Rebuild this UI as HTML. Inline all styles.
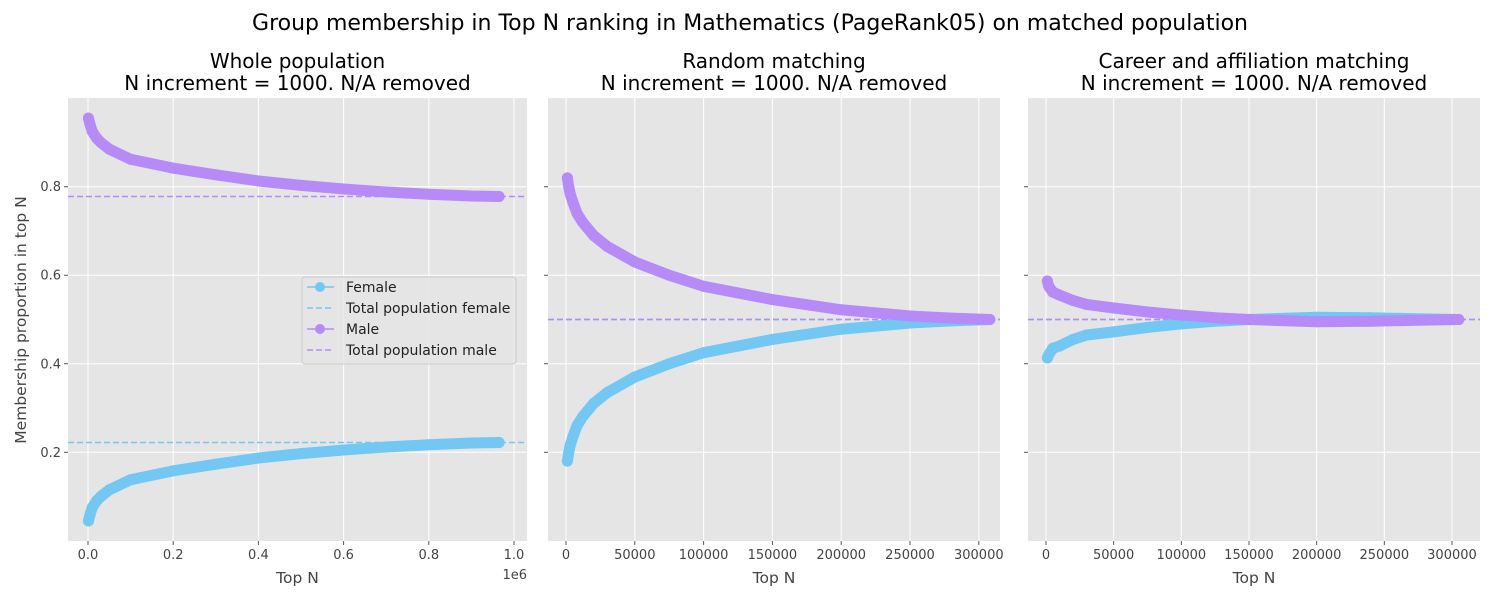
<!DOCTYPE html>
<html><head><meta charset="utf-8"><style>
body{margin:0;background:#fff;font-family:"Liberation Sans","DejaVu Sans",sans-serif}
svg text{font-family:"DejaVu Sans","Liberation Sans",sans-serif}
</style></head><body>
<svg id="chart" width="1500" height="600" xmlns="http://www.w3.org/2000/svg">
<text x="750" y="30" font-size="22" text-anchor="middle" fill="#000">Group membership in Top N ranking in Mathematics (PageRank05) on matched population</text>
<text transform="translate(26,320) rotate(-90)" font-size="15.5" text-anchor="middle" fill="#444">Membership proportion in top N</text>
</svg>
<script>
// Panel 1: whole population
const p1N = [1000,5000,10000,20000,30000,50000,100000,200000,300000,400000,500000,600000,700000,800000,900000,965000];
const p1Female = [0.045,0.06,0.075,0.09,0.1,0.115,0.138,0.158,0.173,0.187,0.197,0.205,0.212,0.217,0.221,0.222];
const p1Male = [0.955,0.94,0.925,0.91,0.9,0.885,0.862,0.842,0.827,0.813,0.803,0.795,0.788,0.783,0.779,0.778];
// Panel 2: random matching
const p2N = [1000,2000,3000,5000,8000,12000,20000,30000,50000,75000,100000,150000,200000,250000,280000,308000];
const p2Female = [0.18,0.2,0.215,0.235,0.26,0.28,0.31,0.335,0.37,0.4,0.425,0.455,0.478,0.492,0.497,0.5];
const p2Male = [0.82,0.8,0.785,0.765,0.74,0.72,0.69,0.665,0.63,0.6,0.575,0.545,0.522,0.508,0.503,0.5];
// Panel 3: career and affiliation matching
const p3N = [1000,2000,5000,10000,20000,30000,50000,75000,100000,130000,150000,200000,240000,270000,305000];
const p3Female = [0.413,0.42,0.435,0.44,0.455,0.465,0.472,0.482,0.49,0.497,0.5,0.505,0.504,0.502,0.5];
const p3Male = [0.587,0.575,0.562,0.555,0.543,0.534,0.526,0.517,0.51,0.503,0.5,0.495,0.496,0.498,0.5];
const totalFemale = [0.222,0.5,0.5];
const totalMale = [0.778,0.5,0.5];
const yTicks = [0.2,0.4,0.6,0.8];
const xTicks1 = [0,0.2e6,0.4e6,0.6e6,0.8e6,1e6];
const xTickLabels1 = ["0.0","0.2","0.4","0.6","0.8","1.0"];
const xTicks23 = [0,50000,100000,150000,200000,250000,300000];
const titles = [["Whole population","N increment = 1000. N/A removed"],["Random matching","N increment = 1000. N/A removed"],["Career and affiliation matching","N increment = 1000. N/A removed"]];

const NS="http://www.w3.org/2000/svg";
const svg=document.getElementById('chart');
const FC="#72c8f2", MC="#b68bf8";
function mk(tag,attrs,parent){const e=document.createElementNS(NS,tag);for(const k in attrs)e.setAttribute(k,attrs[k]);(parent||svg).appendChild(e);return e;}
const plotTop=98,plotBot=541,yMin=-0.0005,yMax=1.0005;
const yS=v=>plotBot-(v-yMin)/(yMax-yMin)*(plotBot-plotTop);
const panels=[
 {l:68,r:527,x0:-46950,x1:1030516,N:p1N,F:p1Female,M:p1Male,ticks:xTicks1,labels:xTickLabels1},
 {l:548,r:1000,x0:-13075,x1:315400,N:p2N,F:p2Female,M:p2Male,ticks:xTicks23,labels:xTicks23.map(String)},
 {l:1028,r:1480,x0:-13300,x1:320700,N:p3N,F:p3Female,M:p3Male,ticks:xTicks23,labels:xTicks23.map(String)}
];
panels.forEach((p,i)=>{
 const xS=v=>p.l+(v-p.x0)/(p.x1-p.x0)*(p.r-p.l);
 const g=mk('g',{});
 
 
 mk('rect',{x:p.l,y:plotTop,width:p.r-p.l,height:plotBot-plotTop,fill:'#e5e5e5'},g);
 yTicks.forEach(t=>{
  mk('line',{x1:p.l,x2:p.r,y1:yS(t),y2:yS(t),stroke:'#fff','stroke-width':1},g);
  mk('line',{x1:p.l-4,x2:p.l,y1:yS(t),y2:yS(t),stroke:'#555'},g);
  if(i===0){const tx=mk('text',{x:p.l-7,y:yS(t)+4.5,'font-size':13,'text-anchor':'end',fill:'#444'},g);tx.textContent=t.toFixed(1);
   
   }
 });
 p.ticks.forEach((t,k)=>{
  mk('line',{x1:xS(t),x2:xS(t),y1:plotTop,y2:plotBot,stroke:'#fff'},g);
  mk('line',{x1:xS(t),x2:xS(t),y1:plotBot,y2:plotBot+4,stroke:'#555'},g);
  const tx=mk('text',{x:xS(t),y:plotBot+18,'font-size':13,'text-anchor':'middle',fill:'#444'},g);tx.textContent=p.labels[k];
  
  
 });
 if(i===0){const e=mk('text',{x:p.r,y:plotBot+38,'font-size':13,'text-anchor':'end',fill:'#444'},g);e.textContent='1e6';}
 const xl=mk('text',{x:(p.l+p.r)/2,y:583,'font-size':15.5,'text-anchor':'middle',fill:'#444'},g);xl.textContent='Top N';
 
 
 titles[i].forEach((s,k)=>{const t=mk('text',{x:(p.l+p.r)/2,y:68+k*22,'font-size':20,'text-anchor':'middle',fill:'#000'},g);t.textContent=s;
  
  });
 const df=mk('line',{x1:p.l,x2:p.r,y1:yS(totalFemale[i]),y2:yS(totalFemale[i]),stroke:FC,'stroke-width':1.5,'stroke-dasharray':'6,3'},g);
 
 
 const dm=mk('line',{x1:p.l,x2:p.r,y1:yS(totalMale[i]),y2:yS(totalMale[i]),stroke:MC,'stroke-width':1.5,'stroke-dasharray':'6,3'},g);
 
 
 [[p.F,FC,'female'],[p.M,MC,'male']].forEach(([vals,c,nm])=>{
  const pts=p.N.map((n,k)=>xS(n)+','+yS(vals[k])).join(' ');
  const pl=mk('polyline',{points:pts,fill:'none',stroke:c,'stroke-width':11,'stroke-linecap':'round','stroke-linejoin':'round'},g);
  
  
  p.N.forEach((n,k)=>{const cc=mk('circle',{cx:xS(n),cy:yS(vals[k]),r:5.5,fill:c},g);
   
   });
 });
});
const lg=mk('g',{});


mk('rect',{x:302,y:277,width:214,height:87,rx:3,fill:'#e5e5e5','fill-opacity':0.8,stroke:'#ccc'},lg);
[["Female",FC,false],["Total population female",FC,true],["Male",MC,false],["Total population male",MC,true]].forEach(([s,c,d],k)=>{
 const y=287+k*21;
 mk('line',{x1:307,x2:334,y1:y,y2:y,stroke:c,'stroke-width':1.5,'stroke-dasharray':d?'6,3':'none'},lg);
 if(!d)mk('circle',{cx:320,cy:y,r:5,fill:c},lg);
 const t=mk('text',{x:346,y:y+5,'font-size':14,fill:'#222'},lg);t.textContent=s;
 
 
});
</script>
</body></html>
